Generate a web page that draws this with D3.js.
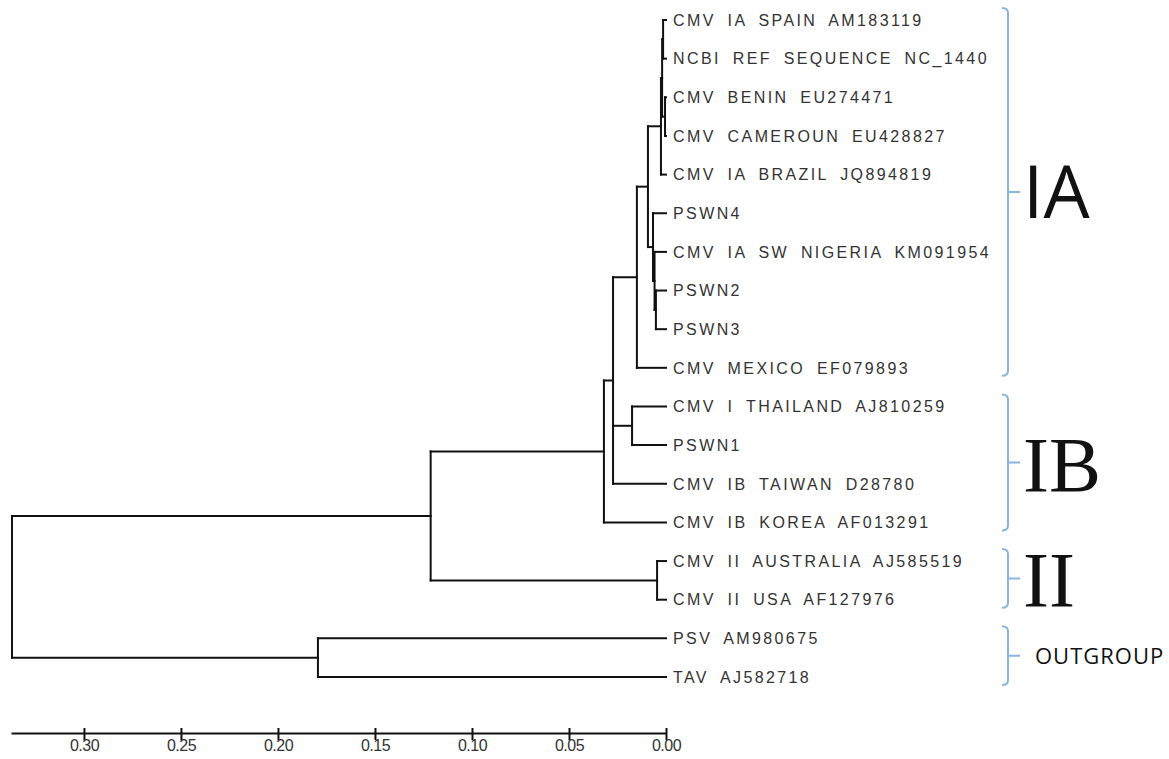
<!DOCTYPE html>
<html>
<head>
<meta charset="utf-8">
<script src="https://cdn.jsdelivr.net/npm/d3@7"></script>
<style>
  html, body { margin: 0; padding: 0; background: #fff; }
  svg { display: block; }
</style>
</head>
<body>
<div id="chart"></div>
<script>
// 末端序列,由上而下
const tips = [
  'CMV IA SPAIN AM183119',
  'NCBI REF SEQUENCE NC_1440',
  'CMV BENIN EU274471',
  'CMV CAMEROUN EU428827',
  'CMV IA BRAZIL JQ894819',
  'PSWN4',
  'CMV IA SW NIGERIA KM091954',
  'PSWN2',
  'PSWN3',
  'CMV MEXICO EF079893',
  'CMV I THAILAND AJ810259',
  'PSWN1',
  'CMV IB TAIWAN D28780',
  'CMV IB KOREA AF013291',
  'CMV II AUSTRALIA AJ585519',
  'CMV II USA AF127976',
  'PSV AM980675',
  'TAV AJ582718',
]

// 內部節點:id / 高度(距離) / 子節點
const nodeIds = [
  'spainNcbi', 'beninCam', 'iaTop', 'iaBrazil', 'pswn23', 'nigeria', 'pswn4',
  'iaCore', 'iaClade', 'thaiPswn1', 'ibSplit', 'iaIb', 'ii', 'cmv', 'outgroup', 'root',
]
const nodeHeights = [
  0.0015, 0.0005, 0.0020, 0.0026, 0.0052, 0.0059, 0.0067,
  0.0093, 0.0150, 0.0175, 0.0273, 0.0320, 0.0046, 0.1213, 0.1794, 0.3371,
]
const nodeChildren = [
  ['CMV IA SPAIN AM183119', 'NCBI REF SEQUENCE NC_1440'],
  ['CMV BENIN EU274471', 'CMV CAMEROUN EU428827'],
  ['spainNcbi', 'beninCam'],
  ['iaTop', 'CMV IA BRAZIL JQ894819'],
  ['PSWN2', 'PSWN3'],
  ['CMV IA SW NIGERIA KM091954', 'pswn23'],
  ['PSWN4', 'nigeria'],
  ['iaBrazil', 'pswn4'],
  ['iaCore', 'CMV MEXICO EF079893'],
  ['CMV I THAILAND AJ810259', 'PSWN1'],
  ['iaClade', 'thaiPswn1', 'CMV IB TAIWAN D28780'],
  ['ibSplit', 'CMV IB KOREA AF013291'],
  ['CMV II AUSTRALIA AJ585519', 'CMV II USA AF127976'],
  ['iaIb', 'ii'],
  ['PSV AM980675', 'TAV AJ582718'],
  ['cmv', 'outgroup'],
]

// 分群標示
const cladeNames = ['IA', 'IB', 'II', 'OUTGROUP']
const cladeFirst = ['CMV IA SPAIN AM183119', 'CMV I THAILAND AJ810259', 'CMV II AUSTRALIA AJ585519', 'PSV AM980675']
const cladeLast = ['CMV MEXICO EF079893', 'CMV IB KOREA AF013291', 'CMV II USA AF127976', 'TAV AJ582718']

const axisTicks = [0.30, 0.25, 0.20, 0.15, 0.10, 0.05, 0.00]

const width = 1169
const height = 759

const svg = d3.select('#chart').append('svg')
  .attr('width', width)
  .attr('height', height)

const x = d3.scaleLinear().domain([0.3376, 0]).range([11, 666])
const y = d3.scalePoint().domain(tips).range([20, 677])

// 建立查詢表
const heightOf = {}
const kidsOf = {}
tips.forEach(t => { heightOf[t] = 0 })
nodeIds.forEach((id, i) => {
  heightOf[id] = nodeHeights[i]
  kidsOf[id] = nodeChildren[i]
})

// 節點 y = 第一個與最後一個子節點的中點
const yOf = {}
const placeY = id => {
  if (yOf[id] !== undefined) return yOf[id]
  if (!kidsOf[id]) {
    yOf[id] = y(id)
  } else {
    const ys = kidsOf[id].map(placeY)
    yOf[id] = (d3.min(ys) + d3.max(ys)) / 2
  }
  return yOf[id]
}
placeY('root')

// 線段
const segs = []
nodeIds.forEach(id => {
  const px = x(heightOf[id])
  const ys = kidsOf[id].map(k => yOf[k])
  segs.push({ x1: px, y1: d3.min(ys), x2: px, y2: d3.max(ys) })
  kidsOf[id].forEach(k => {
    segs.push({ x1: px, y1: yOf[k], x2: x(heightOf[k]), y2: yOf[k] })
  })
})

/** =========================
 * 樹狀圖
 ========================= */
svg.append('g')
  .attr('class', 'branches')
  .selectAll('line')
  .data(segs)
  .join('line')
  .attr('x1', d => d.x1)
  .attr('y1', d => d.y1)
  .attr('x2', d => d.x2)
  .attr('y2', d => d.y2)
  .attr('stroke', '#111')
  .attr('stroke-width', 2)
  .attr('stroke-linecap', 'square')

svg.append('g')
  .attr('class', 'tipLabels')
  .selectAll('text')
  .data(tips)
  .join('text')
  .attr('x', x(0) + 7)
  .attr('y', d => y(d))
  .attr('dy', '0.36em')
  .text(d => d)
  .style('font-family', 'Liberation Sans, Arial, sans-serif')
  .style('font-size', '16px')
  .style('letter-spacing', '2.4px')
  .style('word-spacing', '5px')
  .style('fill', '#333')

/** =========================
 * 座標軸
 ========================= */
const axis = d3.axisBottom(x)
  .tickValues(axisTicks)
  .tickFormat(d3.format('.2f'))
  .tickSizeInner(7)
  .tickSizeOuter(0)
  .tickPadding(0)

const axisG = svg.append('g')
  .attr('class', 'axis')
  .attr('transform', 'translate(0,733)')
  .call(axis)
  .attr('font-size', null)
  .attr('font-family', null)

axisG.select('.domain').attr('stroke', '#111').attr('stroke-width', 2)
axisG.selectAll('.tick line').attr('y1', -5).attr('stroke', '#111').attr('stroke-width', 2)
axisG.selectAll('.tick text')
  .attr('font-family', 'Liberation Sans, Arial, sans-serif')
  .attr('font-size', 16)
  .style('letter-spacing', '-0.5px')
  .attr('fill', '#333')

/** =========================
 * 分群括號
 ========================= */
const bx = 1008
const brackets = cladeNames.map((name, i) => {
  const top = y(cladeFirst[i]) - 12
  const bottom = y(cladeLast[i]) + 8
  return { name, top, bottom, mid: (top + bottom) / 2 }
})

svg.append('g')
  .attr('class', 'brackets')
  .selectAll('path')
  .data(brackets)
  .join('path')
  .attr('d', d => `M${bx - 6},${d.top} Q${bx},${d.top} ${bx},${d.top + 5} V${d.bottom - 5} Q${bx},${d.bottom} ${bx - 6},${d.bottom} M${bx},${d.mid} H${bx + 12}`)
  .attr('fill', 'none')
  .attr('stroke', '#8ab4e0')
  .attr('stroke-width', 2)

const cladeFont = {
  IA: { family: 'Open Sans, sans-serif', size: 73, dx: 15, spacing: 0 },
  IB: { family: 'Liberation Serif, Times New Roman, serif', size: 78, dx: 15, spacing: 0 },
  II: { family: 'Liberation Serif, Times New Roman, serif', size: 78, dx: 15, spacing: 0 },
  OUTGROUP: { family: 'Open Sans, sans-serif', size: 22, dx: 27, spacing: 1 },
}

svg.append('g')
  .attr('class', 'cladeLabels')
  .selectAll('text')
  .data(brackets)
  .join('text')
  .attr('x', d => bx + cladeFont[d.name].dx)
  .attr('y', d => d.mid)
  .attr('dy', '0.36em')
  .text(d => d.name)
  .style('font-family', d => cladeFont[d.name].family)
  .style('font-size', d => `${cladeFont[d.name].size}px`)
  .style('letter-spacing', d => `${cladeFont[d.name].spacing}px`)
  .style('fill', '#111')
</script>
</body>
</html>
